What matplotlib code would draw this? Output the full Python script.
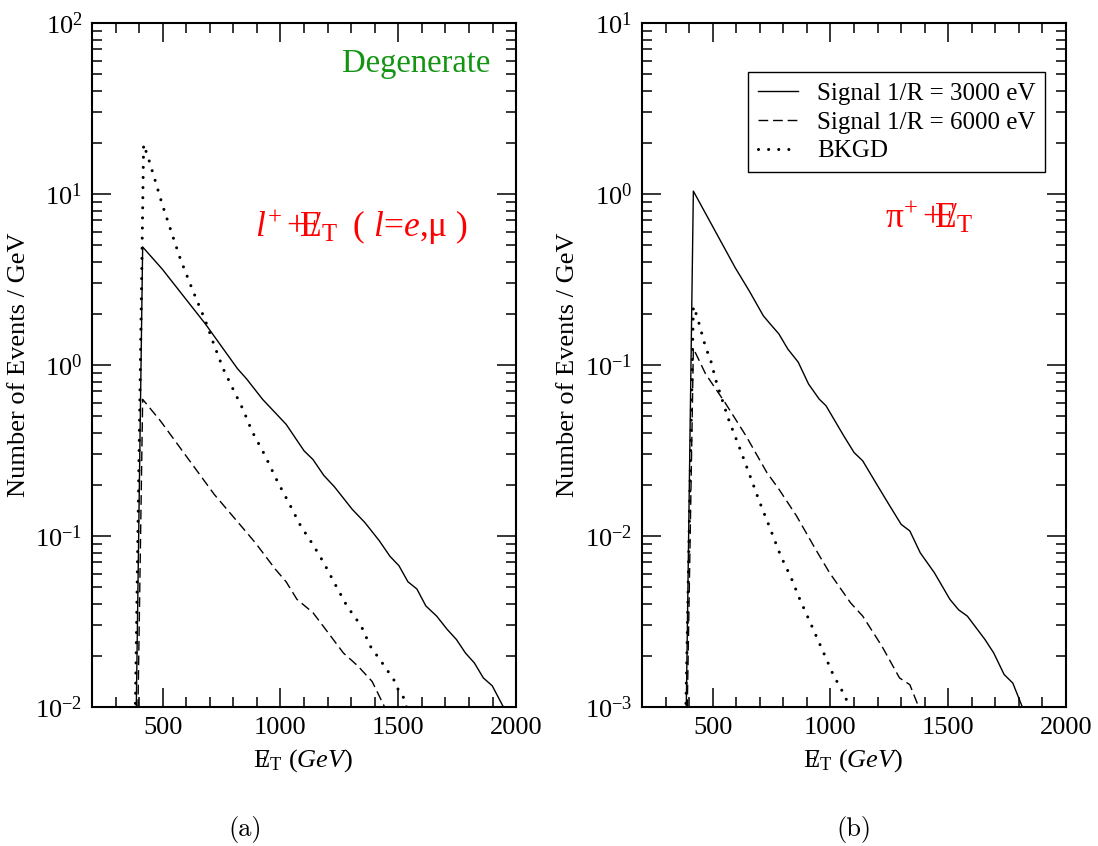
#!/usr/bin/env python3
# -*- coding: utf-8 -*-
"""
Missing-ET spectra, two panels (a) lepton channel, (b) pion channel
"""

import matplotlib

matplotlib.use('Agg')
import matplotlib.pyplot as plt
from matplotlib.ticker import LogLocator, MultipleLocator, LogFormatterSciNotation, NullFormatter

# ---- panel (a): l+ + missing ET ----
a_sig3000_x = [387, 415, 498, 681, 818, 856, 924, 1024, 1100, 1138, 1184, 1229, 1305, 1358,
               1419, 1465, 1503, 1541, 1579, 1617, 1663, 1708, 1747, 1785, 1823, 1861, 1899, 1960]
a_sig3000_y = [0.008, 4.9, 3.64, 1.74, 0.95, 0.83, 0.63, 0.45, 0.315, 0.28, 0.226, 0.194, 0.143, 0.12,
               0.094, 0.076, 0.067, 0.054, 0.049, 0.039, 0.034, 0.0284, 0.0248, 0.0207, 0.0181, 0.0148,
               0.0133, 0.0092]

a_sig6000_x = [394, 415, 491, 719, 856, 894, 978, 1024, 1070, 1138, 1192, 1267, 1328, 1389, 1450]
a_sig6000_y = [0.008, 0.63, 0.47, 0.175, 0.105, 0.091, 0.064, 0.054, 0.0426, 0.0356, 0.0284, 0.0207,
               0.0174, 0.0141, 0.0095]

a_bkgd_x = [383, 419, 438, 468, 498, 544, 575, 628, 681, 719, 757, 795, 841, 879, 932, 986, 1039,
            1085, 1138, 1183, 1236, 1282, 1343, 1381, 1442, 1495, 1500, 1518, 1540]
a_bkgd_y = [0.008, 19.5, 16.4, 12.0, 8.7, 5.6, 4.17, 2.72, 1.82, 1.30, 0.95, 0.74, 0.55, 0.41, 0.30,
            0.21, 0.153, 0.115, 0.089, 0.070, 0.051, 0.039, 0.0297, 0.0227, 0.0173, 0.0135, 0.0125,
            0.0118, 0.0095]

# ---- panel (b): pi+ + missing ET ----
b_sig3000_x = [387, 418, 507, 596, 656, 715, 744, 781, 819, 863, 907, 952, 981, 1056, 1100, 1137,
               1196, 1248, 1300, 1337, 1381, 1441, 1507, 1544, 1581, 1656, 1693, 1737, 1774, 1825]
b_sig3000_y = [0.0008, 1.04, 0.62, 0.37, 0.27, 0.194, 0.174, 0.152, 0.124, 0.104, 0.0774, 0.0632,
               0.0578, 0.0386, 0.0308, 0.0275, 0.0201, 0.0153, 0.0117, 0.0107, 0.00798, 0.0061,
               0.00426, 0.0037, 0.0034, 0.00248, 0.00207, 0.00155, 0.00138, 0.00092]

b_sig6000_x = [391, 418, 470, 552, 641, 730, 781, 856, 937, 996, 1085, 1137, 1219, 1293, 1337, 1385]
b_sig6000_y = [0.0008, 0.125, 0.0886, 0.0604, 0.0386, 0.0235, 0.0188, 0.0131, 0.00835, 0.0061,
               0.00407, 0.0034, 0.00226, 0.00148, 0.00135, 0.00092]

b_bkgd_x = [385, 418, 433, 470, 492, 514, 567, 611, 648, 700, 737, 789, 833, 870, 915, 974, 1011,
            1063, 1088]
b_bkgd_y = [0.0008, 0.22, 0.194, 0.127, 0.106, 0.081, 0.0483, 0.0337, 0.0246, 0.0157, 0.0117,
            0.00764, 0.0057, 0.00426, 0.0031, 0.00203, 0.00155, 0.00115, 0.00092]

legend_labels = ['Signal 1/R = 3000 eV', 'Signal 1/R = 6000 eV', 'BKGD']

plt.rcParams['font.family'] = 'Liberation Serif'
plt.rcParams['mathtext.fontset'] = 'custom'
plt.rcParams['mathtext.rm'] = 'Liberation Serif'
plt.rcParams['mathtext.it'] = 'Liberation Serif:italic'
plt.rcParams['mathtext.bf'] = 'Liberation Serif:bold'
plt.rcParams['axes.unicode_minus'] = False

# line styles
SOLID = dict(color='black', linewidth=1.0, linestyle='-')
DASHED = dict(color='black', linewidth=1.0, linestyle=(0, (7, 3.5)))
DOTTED = dict(color='black', linewidth=2.2, linestyle=(0, (0.01, 3.3)), dash_capstyle='round')

# E with slash (missing transverse energy)
ET = r'\,/\!\!\!\!\!\mathrm{E}_{\mathrm{T}}'


def style_axes(ax, ymin, ymax, ylabel_pad=4):
    ax.set_yscale('log')
    ax.set_xlim(200, 2000)
    ax.set_ylim(ymin, ymax)
    ax.xaxis.set_major_locator(MultipleLocator(500))
    ax.xaxis.set_minor_locator(MultipleLocator(100))
    ax.yaxis.set_major_locator(LogLocator(base=10))
    ax.yaxis.set_minor_locator(LogLocator(base=10, subs=range(2, 10)))
    ax.yaxis.set_major_formatter(LogFormatterSciNotation())
    ax.yaxis.set_minor_formatter(NullFormatter())
    ax.tick_params(which='both', direction='in', top=True, right=True, width=1.1, labelsize=19)
    ax.tick_params(which='major', length=14, pad=7)
    ax.tick_params(which='minor', length=7)
    for sp in ax.spines.values():
        sp.set_linewidth(1.5)
    ax.set_xlabel('$' + ET + r'$ $\mathit{(GeV)}$', fontsize=19, labelpad=6)
    ax.set_ylabel('Number of Events / GeV', fontsize=19, labelpad=ylabel_pad)


def draw_panel(ax, s3x, s3y, s6x, s6y, bx, by):
    l1, = ax.plot(s3x, s3y, **SOLID)
    l2, = ax.plot(s6x, s6y, **DASHED)
    l3, = ax.plot(bx, by, **DOTTED)
    return [l1, l2, l3]


fig = plt.figure(figsize=(10.98, 8.46), dpi=100)
ax_a = fig.add_axes([0.0838, 0.1643, 0.3862, 0.8085])
ax_b = fig.add_axes([0.5847, 0.1643, 0.3862, 0.8085])

draw_panel(ax_a, a_sig3000_x, a_sig3000_y, a_sig6000_x, a_sig6000_y, a_bkgd_x, a_bkgd_y)
lines = draw_panel(ax_b, b_sig3000_x, b_sig3000_y, b_sig6000_x, b_sig6000_y, b_bkgd_x, b_bkgd_y)

style_axes(ax_a, 1e-2, 1e2)
style_axes(ax_b, 1e-3, 1e1)

# annotations
ax_a.text(0.939, 0.928, 'Degenerate', color='#139413', fontsize=23.5, ha='right', va='baseline',
          transform=ax_a.transAxes)
ax_a.text(0.385, 0.687, r'$l^{+}\,$+$' + ET + r'\;$ ( $l$=$e$,μ )', color='red', fontsize=25.5,
          ha='left', va='baseline', transform=ax_a.transAxes)
ax_b.text(0.574, 0.70, r'$\mathrm{\pi}^{+}\,$+$' + ET + '$', color='red', fontsize=25.5,
          ha='left', va='baseline', transform=ax_b.transAxes)

leg = ax_b.legend(lines, legend_labels, loc='upper left', bbox_to_anchor=(0.25, 0.928),
                  borderaxespad=0, fontsize=18, fancybox=False, framealpha=1,
                  edgecolor='black', handlelength=1.6, handletextpad=0.75, labelspacing=0.25,
                  borderpad=0.4)
leg.get_frame().set_linewidth(1.0)

# sub-figure captions
fig.text(245 / 1098, 1 - 829 / 846, '(a)', fontsize=19, family='cmr10', ha='center', va='center')
fig.text(854 / 1098, 1 - 829 / 846, '(b)', fontsize=19, family='cmr10', ha='center', va='center')

fig.savefig('out.png', dpi=100, facecolor='white')
plt.close(fig)
